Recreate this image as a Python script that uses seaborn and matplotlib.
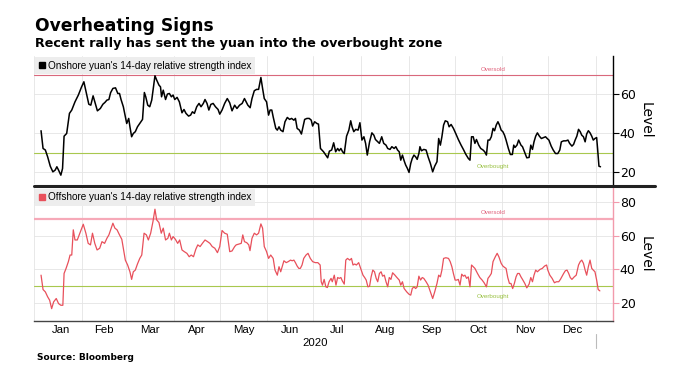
import matplotlib.pyplot as plt
from matplotlib.lines import Line2D
import matplotlib.transforms as mtransforms
import seaborn as sns
import pandas as pd

sns.set_style('white')
plt.rcParams['font.family'] = ['DejaVu Sans']
for k in ['text.color', 'axes.labelcolor', 'xtick.color', 'ytick.color']:
    plt.rcParams[k] = 'black'
small_font = ['Liberation Sans', 'DejaVu Sans']

# 14-day RSI (x = days after 2020-01-01) --------------------------------------
onshore_day = [4.6, 5.9, 7.4, 8.9, 10.6, 12.3, 13.8, 14.9, 16.0, 17.5, 18.6, 19.6, 21.3, 23.1, 24.6,
               26.7, 28.9, 31.0, 32.5, 34.2, 35.7, 37.0, 38.5, 40.2, 41.3, 43.2, 44.9, 46.2, 47.5,
               48.8, 49.9, 51.4, 53.1, 54.6, 55.7, 56.7, 58.2, 59.5, 60.4, 61.7, 62.5, 63.6, 64.7,
               66.0, 67.4, 68.9, 70.7, 71.9, 72.8, 74.1, 75.4, 76.7, 77.7, 78.8, 79.9, 81.4, 82.4,
               83.1, 84.2, 85.7, 86.9, 88.2, 89.5, 90.6, 91.7, 93.2, 94.7, 96.4, 97.7, 99.0, 100.7,
               102.0, 103.2, 104.5, 106.0, 107.5, 108.8, 110.3, 111.4, 112.7, 113.9, 115.2, 116.7,
               118.2, 119.9, 121.0, 122.5, 124.2, 125.9, 127.5, 129.0, 130.7,
               132.2, 133.9, 135.6, 137.1, 138.2, 139.3, 140.8, 142.0, 143.5, 145.0, 146.3, 147.8,
               148.9, 150.0, 151.5, 152.8, 153.8, 154.9, 155.8, 157.5, 158.5, 159.6, 160.7, 162.2,
               163.5, 165.0, 166.5, 167.8, 169.3, 170.3, 171.4, 172.9, 174.2, 175.0, 176.3, 177.8,
               179.3, 180.6, 181.5, 182.8, 184.3, 185.3, 186.6, 188.6, 190.1, 191.3, 192.4, 193.9,
               195.2, 196.5, 197.8, 198.8, 199.9, 201.0, 202.1, 203.6, 205.1, 206.3, 207.2, 208.3,
               209.6, 211.1, 212.3, 213.6, 214.9, 216.0, 217.1, 218.6, 220.1, 221.4, 222.4, 223.9,
               225.0, 226.5, 227.8, 229.3, 230.4, 231.9, 233.1, 234.6, 235.7, 236.8, 237.9, 238.9,
               240.0, 241.1, 242.1, 243.2, 244.3, 245.4, 246.4, 247.5, 248.6, 249.6, 250.7, 251.4,
               252.4, 253.9, 255.4,
               256.7, 258.2, 259.7, 261.0, 262.5, 263.6, 264.7, 265.7, 266.8, 267.9, 269.4, 270.4,
               271.7, 273.2, 274.7, 276.4, 278.2, 279.7, 281.2, 282.9, 284.0, 285.0, 286.1, 287.2,
               288.2, 289.7, 291.0, 292.5, 293.6, 294.7, 295.7, 296.8, 297.9, 299.0, 300.0, 301.1,
               302.2, 303.2, 304.3, 305.4, 306.5, 307.5, 309.0, 310.3, 311.6, 312.5, 313.3, 314.6,
               315.7, 317.2, 318.2, 319.7, 321.0, 322.5, 323.6, 324.7, 325.7, 326.8, 327.9, 329.2,
               330.5, 331.7, 333.2, 334.3, 335.4, 336.9, 338.2, 339.7, 341.2, 342.5, 343.5, 345.0,
               346.5, 347.8, 348.9, 350.4, 351.5, 352.5, 353.6, 354.7, 355.8, 356.8, 357.9, 359.0,
               360.0, 361.1, 362.2, 363.3, 364.3, 365.4, 366.5, 367.1, 368.0, 369.0]
onshore_rsi = [41.4, 32.3, 31.5, 28.0, 23.2, 20.3, 21.2, 22.9, 21.2, 18.6, 22.0, 38.6, 40.0, 50.3, 52.0,
               56.2, 59.7, 63.9, 66.5, 60.5, 55.0, 54.5, 59.3, 54.5, 51.6, 52.8, 55.0, 55.9, 57.1,
               57.4, 60.9, 63.1, 63.4, 60.5, 60.5, 57.4, 53.7, 48.5, 45.1, 47.7, 43.4, 38.3, 40.0,
               40.9, 43.4, 45.1, 47.2, 61.0, 58.8, 54.5, 53.7, 57.1, 63.1, 69.6, 67.4, 64.8, 63.9,
               58.8, 62.2, 57.4, 60.2, 60.5, 58.8, 59.7, 57.4, 58.5, 56.2, 50.6, 52.3, 50.3, 48.9,
               49.4, 51.1, 50.3, 53.7, 55.4, 53.7, 55.4, 57.4, 55.4, 52.0, 54.9, 55.4,
               53.7, 52.3, 49.9, 52.0, 55.4, 57.9, 55.7, 51.6, 54.5,
               52.8, 54.5, 55.4, 57.9, 56.2, 54.5, 53.2, 57.9, 61.9, 62.6, 62.6, 68.7,
               63.1, 57.9, 56.2, 49.4, 52.0, 52.0, 48.5, 42.6, 41.7, 43.4, 41.7, 40.9,
               46.0, 48.2, 47.2, 47.7, 46.8, 47.7, 42.6, 41.7, 39.7, 42.6, 47.2, 47.7,
               47.7, 46.8, 43.8, 46.0, 45.1, 44.8, 32.3, 30.6, 28.9, 27.5, 30.9, 31.5,
               35.2, 30.6, 32.3, 31.1, 32.3, 30.6, 29.7, 38.6, 41.7, 46.5, 43.4, 40.9,
               42.1, 41.7, 45.5, 36.6, 38.3, 34.9, 28.9, 35.7, 40.3, 39.1, 36.9, 35.7,
               34.9, 38.3, 34.9, 34.0, 32.3, 31.8, 33.2, 32.3, 33.2, 31.5, 30.6, 26.3,
               28.9, 26.0, 23.8, 22.1, 20.0, 24.6, 27.2, 28.9, 28.0, 26.7, 29.7, 33.2,
               31.1, 31.8, 31.5,
               28.0, 24.6, 20.3, 23.2, 25.5, 37.4, 34.0, 38.3, 44.3, 46.5, 46.0, 43.4,
               44.6, 42.6, 40.0, 36.9, 34.0, 31.8, 29.4, 27.2, 26.3, 38.3, 38.3, 34.9,
               36.9, 34.0, 32.3, 31.5, 30.6, 28.9, 36.6, 36.6, 38.3, 42.6, 41.4, 44.3,
               46.0, 44.3, 41.7, 40.9, 39.1, 36.6, 32.3, 29.2, 29.2, 34.0, 32.8, 34.0,
               36.6, 34.0, 33.2, 30.1, 27.5, 27.7, 34.0, 31.8, 35.7, 38.6, 40.3, 38.6,
               37.4, 37.8, 38.3, 37.4, 36.6, 33.5, 31.5, 29.7, 29.7, 31.5, 35.7, 36.2,
               36.2, 36.6, 34.9, 33.5, 34.4, 36.6, 38.6, 42.1, 40.9, 39.1, 38.3, 35.7,
               39.7, 41.4, 40.3, 38.6, 36.6, 37.4, 37.9, 32.3, 23.2, 22.9]

offshore_day = [4.6, 5.9, 7.4, 8.9, 10.2, 11.5, 12.8, 14.5, 16.0, 17.5, 18.8, 19.6, 20.9, 22.4, 23.5,
                24.6, 25.6, 26.7, 28.2, 29.9, 32.1, 33.8, 35.3, 36.8, 38.1, 39.6, 41.1, 42.8, 44.3,
                46.0, 47.5, 48.8, 50.3, 51.4, 52.7, 54.1, 55.7, 57.2, 58.2, 59.5, 61.0, 62.5, 63.6,
                64.7, 66.0, 67.4, 68.9, 70.2, 71.7, 73.2, 74.5, 76.0, 77.5, 78.8, 79.9, 81.4, 82.9,
                84.2, 85.7, 87.2, 88.2, 89.5, 90.6, 92.1, 93.6, 94.9, 96.4, 97.9, 99.6, 101.1, 102.4,
                103.9, 105.4, 106.7, 108.2, 109.7, 111.4, 113.1, 114.6, 116.1, 117.8, 119.5, 121.0,
                122.5, 124.2, 125.9, 127.5, 129.0, 130.7,
                131.7, 133.5, 135.0, 136.0, 137.1, 138.6, 139.9, 140.7, 142.0, 143.5, 145.0, 146.3,
                147.8, 148.9, 150.0, 151.5, 152.8, 154.2, 155.8, 157.0, 158.5, 159.6, 160.7, 161.8,
                162.8, 164.3, 165.6, 167.1, 168.2, 169.3, 170.3, 171.4, 172.5, 173.5, 174.6, 175.7,
                177.2, 178.5, 180.0, 181.5, 183.2, 184.9, 186.4, 187.1, 187.9, 189.0, 190.1, 191.1,
                192.2, 193.5, 194.3, 195.6, 196.7, 197.8, 198.8, 199.9, 200.8, 202.1, 203.1, 204.2,
                205.7, 206.8, 207.8, 208.9, 210.0, 211.5, 212.8, 214.3, 215.4, 216.4, 217.5, 218.6,
                219.6, 220.7, 221.8, 222.9, 223.9, 225.0, 226.1, 227.1, 228.2, 229.3, 230.4, 231.4,
                232.5, 233.6, 235.1, 236.4, 237.9, 238.9, 240.0, 241.1, 242.8, 244.3, 245.4, 246.4,
                247.5, 248.6, 249.6, 250.7, 251.8, 252.9, 253.9, 255.4,
                256.7, 258.2, 259.7, 261.0, 262.5, 263.6, 264.7, 265.7, 266.8, 268.3, 270.0, 271.1,
                272.2, 273.2, 274.3, 275.4, 276.4, 277.5, 278.6, 279.7, 280.7, 281.8, 282.9, 284.0,
                285.0, 286.1, 287.2, 288.9, 290.4, 291.9, 293.2, 294.7, 295.7, 296.8, 297.9, 299.0,
                300.5, 301.7, 302.8, 304.3, 305.4, 306.5, 307.5, 308.6, 309.7, 310.7, 311.8, 312.9,
                314.0, 315.0, 316.1, 317.2, 318.2, 319.7, 321.0, 322.5, 323.6, 324.7, 325.7, 326.8,
                327.9, 329.6, 331.1, 332.6, 333.9, 334.7, 336.0, 337.5, 339.0, 340.3, 341.8, 342.9,
                344.0, 345.0, 346.1, 347.2, 348.3, 349.3, 350.4, 351.9, 353.2, 354.7, 355.8, 356.8,
                357.9, 359.0, 360.0, 361.1, 362.2, 363.3, 364.3, 365.4, 366.5, 367.5, 368.6]
offshore_rsi = [36.6, 28.1, 26.7, 23.8, 21.8, 16.8, 20.8, 22.8, 19.8, 18.8, 18.8, 37.6, 40.6, 44.6, 48.5,
                48.5, 63.4, 57.4, 57.4, 61.4, 66.7, 61.4, 55.4, 54.5, 61.4, 55.4, 51.5, 52.5, 56.4,
                55.4, 58.4, 60.4, 64.4, 67.3, 64.4, 63.4, 60.4, 57.8, 52.5, 45.5, 42.6, 38.6, 34.1,
                38.6, 39.6, 43.2, 46.5, 48.5, 61.4, 60.4, 57.4, 61.4, 68.3, 75.6, 69.3, 67.7, 61.4,
                64.4, 57.4, 58.4, 61.4, 57.4, 59.4, 57.8, 55.4, 57.4, 51.5, 50.5, 49.5, 47.5, 48.5,
                47.5, 51.9, 54.5, 53.5, 55.4, 57.4, 56.4, 55.4, 53.5, 52.5, 49.9, 53.5,
                63.0, 61.4, 60.8, 50.5, 50.9, 53.5,
                54.5, 55.0, 55.4, 60.4, 56.4, 55.8, 54.5, 51.1, 58.4, 61.4, 60.4, 61.4,
                66.9, 64.4, 53.5, 50.5, 46.5, 48.5, 46.5, 39.6, 36.6, 41.6, 38.6, 42.0,
                45.1, 44.0, 44.6, 45.5, 45.1, 45.5, 44.0, 42.0, 40.6, 40.6, 42.6, 46.5,
                48.5, 49.5, 46.5, 44.6, 44.0, 44.0, 42.6, 32.7, 30.7, 34.1, 29.7, 29.3,
                32.7, 34.7, 32.7, 36.6, 30.7, 35.2, 34.7, 35.2, 33.3, 31.3, 45.5, 46.5,
                45.5, 46.5, 42.6, 43.2, 42.6, 44.0, 40.6, 36.6, 35.2, 33.7, 29.7, 30.1,
                35.6, 39.6, 38.6, 34.7, 32.7, 37.6, 38.6, 36.0, 36.6, 32.7, 29.7, 35.2,
                34.1, 38.0, 36.6, 35.2, 33.7, 30.7, 32.7, 28.7, 26.7, 25.3, 24.8, 28.7,
                29.7, 28.7, 29.7, 36.0, 33.7, 35.2, 34.7, 32.7,
                30.7, 26.7, 22.8, 26.7, 31.7, 36.6, 35.6, 39.6, 46.5, 46.9, 46.5, 44.6,
                41.6, 37.6, 33.7, 33.7, 34.1, 30.7, 37.2, 36.0, 36.6, 34.7, 35.6, 29.7,
                42.6, 41.6, 40.6, 37.6, 35.2, 33.7, 32.1, 29.7, 34.7, 36.0, 37.6, 44.6,
                47.5, 49.5, 47.5, 43.6, 42.0, 41.2, 40.6, 35.2, 31.7, 31.7, 28.7, 31.7,
                35.6, 37.6, 37.6, 35.6, 34.1, 31.7, 29.1, 31.3, 35.2, 32.7, 36.6, 39.6,
                38.6, 40.0, 40.6, 42.0, 42.6, 39.6, 36.6, 34.7, 32.1, 32.7, 32.7, 34.1,
                36.0, 37.6, 39.2, 39.6, 37.6, 35.2, 34.1, 35.6, 36.6, 42.6, 44.6, 45.5,
                43.6, 39.6, 36.6, 41.6, 45.5, 40.6, 39.6, 38.6, 33.7, 28.1, 27.3]

oversold = 70
overbought = 30
month_names = ['Jan', 'Feb', 'Mar', 'Apr', 'May', 'Jun', 'Jul', 'Aug', 'Sep', 'Oct', 'Nov', 'Dec']
year_label = '2020'

base = pd.Timestamp('2020-01-01')
x_start = base + pd.Timedelta(days=4.6)
x_end = base + pd.Timedelta(days=377)

onshore = pd.DataFrame({'date': base + pd.to_timedelta(onshore_day, unit='D'), 'rsi': onshore_rsi})
offshore = pd.DataFrame({'date': base + pd.to_timedelta(offshore_day, unit='D'), 'rsi': offshore_rsi})

month_starts = pd.date_range('2020-01-01', '2021-01-01', freq='MS')
label_pos = []
for a, b in zip(month_starts[:-1], month_starts[1:]):
    a, b = max(a, x_start), min(b, x_end)
    label_pos.append(a + (b - a) / 2)

fig = plt.figure(figsize=(6.73, 3.75), dpi=100)
ax1 = fig.add_axes([0.0505, 0.509, 0.860, 0.341])
ax2 = fig.add_axes([0.0505, 0.144, 0.860, 0.355])

panels = [
    # ax, data, line colour, line width, legend text, ylim, yticks, spine colour,
    # oversold colour, oversold width, label offsets
    (ax1, onshore, 'black', 1.1, "Onshore yuan's 14-day relative strength index",
     (14, 79.6), [20, 40, 60], 'black', '#d9687c', 0.8, 3.0, 6.9),
    (ax2, offshore, '#e8505b', 0.9, "Offshore yuan's 14-day relative strength index",
     (9.5, 88.2), [20, 40, 60, 80], '#f29aac', '#f6a9b8', 1.6, 3.6, 6.3),
]

for ax, df, col, lw, name, ylim, yt, spcol, oscol, oslw, os_off, ob_off in panels:
    sns.lineplot(data=df, x='date', y='rsi', ax=ax, color=col, lw=lw, zorder=3)
    ax.axhline(oversold, color=oscol, lw=oslw, zorder=2)
    ax.axhline(overbought, color='#a8c84e', lw=0.8, zorder=2)

    tr = mtransforms.blended_transform_factory(ax.transAxes, ax.transData)
    ax.text(0.793, oversold + os_off, 'Oversold', transform=tr, ha='center', va='center',
            fontsize=4.5, color='#e0607a', family=small_font)
    ax.text(0.793, overbought - ob_off, 'Overbought', transform=tr, ha='center', va='center',
            fontsize=4.5, color='#98c040', family=small_font)

    ax.set_xlim(x_start, x_end)
    ax.set_ylim(*ylim)
    ax.set_yticks(yt)
    ax.set_xticks(month_starts)
    ax.grid(True, color='#e4e4e4', lw=0.6, zorder=0)

    ax.yaxis.tick_right()
    ax.yaxis.set_label_position('right')
    ax.set_ylabel('Level', rotation=270, fontsize=10, labelpad=12)
    ax.set_xlabel('')
    ax.tick_params(axis='y', direction='out', length=4, width=0.8, color=spcol,
                   labelsize=9, pad=1)

    for s in ['top', 'left']:
        ax.spines[s].set_visible(False)
    ax.spines['right'].set_color(spcol)
    ax.spines['right'].set_linewidth(1.0)

    handle = Line2D([], [], marker='s', color=col, linestyle='none', markersize=5)
    leg = ax.legend([handle], [name], loc='upper left', frameon=True, fancybox=False,
                    facecolor='#ededed', edgecolor='none', framealpha=1, borderaxespad=0.1,
                    handletextpad=0.2, handlelength=0.8, borderpad=0.35,
                    prop={'family': small_font, 'size': 7.2})
    leg.set_zorder(5)

ax1.spines['bottom'].set_visible(False)
ax1.tick_params(axis='x', bottom=False, labelbottom=False)

ax2.spines['bottom'].set_color('#444444')
ax2.spines['bottom'].set_linewidth(1.0)
ax2.tick_params(axis='x', which='major', direction='inout', length=4, width=0.7,
                color='#555555', labelbottom=False)
ax2.set_xticks(label_pos, minor=True)
ax2.set_xticklabels(month_names, minor=True, fontsize=8.2, family=small_font)
ax2.tick_params(axis='x', which='minor', length=0, pad=3)
ax2.axvline(month_starts[-1], ymin=-0.2, ymax=-0.1, clip_on=False, color='#bbbbbb', lw=0.8)
ax2.text(0.485, -0.165, year_label, transform=ax2.transAxes, ha='center', va='center',
         fontsize=8.2, family=small_font)

# thick divider between the two panels
fig.add_artist(Line2D([0.0505, 0.973], [0.504, 0.504], transform=fig.transFigure,
                      color='#222222', lw=2.2))

fig.text(0.052, 1 - 30.7 / 375, 'Overheating Signs', fontsize=12.3, weight='bold', va='baseline')
fig.text(0.052, 1 - 46.7 / 375, 'Recent rally has sent the yuan into the overbought zone',
         fontsize=9.2, weight='bold', va='baseline')
fig.text(0.055, 1 - 357 / 375, 'Source: Bloomberg', fontsize=6.5, weight='bold', va='center')

fig.savefig('out.png', dpi=100)
